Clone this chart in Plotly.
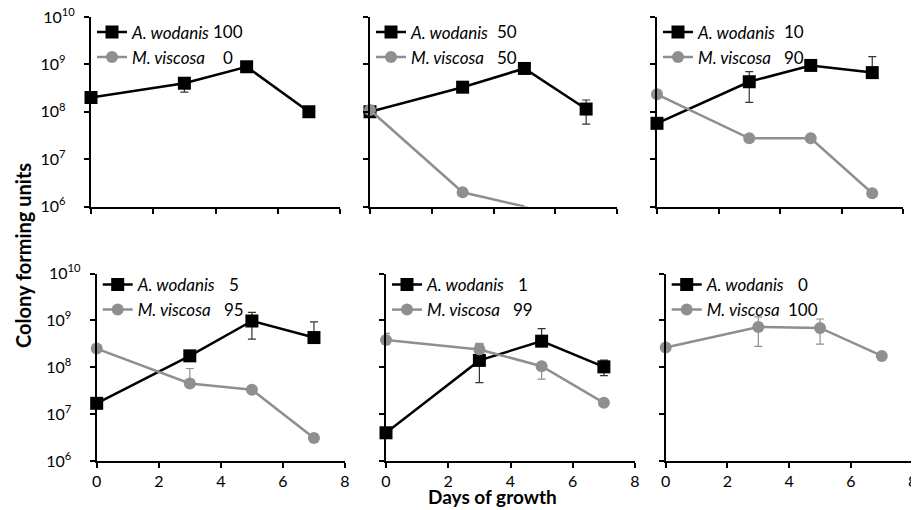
import plotly.graph_objects as go

# ---------------- data ----------------
days = [0, 3, 5, 7]
aw_pct = [100, 50, 10, 5, 1, 0]
mv_pct = [0, 50, 90, 95, 99, 100]

day_ticks = [0, 2, 4, 6, 8]
cfu_ticks = [1e6, 1e7, 1e8, 1e9, 1e10]
cfu_ticktext = ["10<sup>6</sup>\u2007", "10<sup>7</sup>\u2007", "10<sup>8</sup>\u2007",
                "10<sup>9</sup>\u2007", "10<sup>10</sup>"]

# A. wodanis colony forming units (one list per co-culture)
aw_cfu_1 = [2.0e8, 4.0e8, 8.9e8, 1.0e8]
aw_cfu_2 = [1.0e8, 3.3e8, 8.2e8, 1.14e8]
aw_cfu_3 = [5.7e7, 4.3e8, 9.5e8, 6.7e8]
aw_cfu_4 = [1.7e7, 1.75e8, 9.7e8, 4.3e8]
aw_cfu_5 = [4.0e6, 1.4e8, 3.6e8, 1.02e8]
aw_cfu_6 = [None, None, None, None]

# A. wodanis error bar upper / lower ends
aw_hi_1 = [None, None, None, None]
aw_lo_1 = [None, 2.6e8, None, None]
aw_hi_2 = [None, None, None, 1.77e8]
aw_lo_2 = [None, None, None, 5.5e7]
aw_hi_3 = [None, 7.0e8, None, 1.46e9]
aw_lo_3 = [None, 1.58e8, None, None]
aw_hi_4 = [None, None, 1.48e9, 9.3e8]
aw_lo_4 = [None, None, 4.0e8, None]
aw_hi_5 = [None, 3.1e8, 6.7e8, 1.42e8]
aw_lo_5 = [None, 4.7e7, None, 6.6e7]
aw_hi_6 = [None, None, None, None]
aw_lo_6 = [None, None, None, None]

# M. viscosa colony forming units
mv_cfu_1 = [None, None, None, None]
mv_cfu_2 = [1.09e8, 2.0e6, 1.0e6, None]
mv_cfu_3 = [2.33e8, 2.75e7, 2.75e7, 1.9e6]
mv_cfu_4 = [2.5e8, 4.5e7, 3.3e7, 3.1e6]
mv_cfu_5 = [3.8e8, 2.4e8, 1.05e8, 1.74e7]
mv_cfu_6 = [2.63e8, 7.2e8, 6.9e8, 1.74e8]

# M. viscosa error bar upper / lower ends
mv_hi_1 = [None, None, None, None]
mv_lo_1 = [None, None, None, None]
mv_hi_2 = [None, None, None, None]
mv_lo_2 = [None, None, None, None]
mv_hi_3 = [None, None, None, None]
mv_lo_3 = [None, None, None, None]
mv_hi_4 = [None, 9.4e7, None, None]
mv_lo_4 = [None, None, None, None]
mv_hi_5 = [5.3e8, 3.25e8, None, None]
mv_lo_5 = [None, None, 5.6e7, None]
mv_hi_6 = [None, 1.19e9, 1.07e9, None]
mv_lo_6 = [None, 2.8e8, 3.1e8, None]

aw_cfu = [aw_cfu_1, aw_cfu_2, aw_cfu_3, aw_cfu_4, aw_cfu_5, aw_cfu_6]
aw_hi = [aw_hi_1, aw_hi_2, aw_hi_3, aw_hi_4, aw_hi_5, aw_hi_6]
aw_lo = [aw_lo_1, aw_lo_2, aw_lo_3, aw_lo_4, aw_lo_5, aw_lo_6]
mv_cfu = [mv_cfu_1, mv_cfu_2, mv_cfu_3, mv_cfu_4, mv_cfu_5, mv_cfu_6]
mv_hi = [mv_hi_1, mv_hi_2, mv_hi_3, mv_hi_4, mv_hi_5, mv_hi_6]
mv_lo = [mv_lo_1, mv_lo_2, mv_lo_3, mv_lo_4, mv_lo_5, mv_lo_6]

# ---------------- layout geometry (window pixels) ----------------
PAGE_MARGIN = 8            # default <body> margin of the html page
W, H = 919 - PAGE_MARGIN, 510 - PAGE_MARGIN
FONT = "Lato"
BLACK = "#000000"
GREY = "#8f8f8f"

col_px = [(91, 340), (370, 617), (657, 903), (96.7, 345), (386, 635), (665.7, 912.7)]
row_px = [(17, 206.5)] * 3 + [(273.5, 461)] * 3
legend_row1 = [32, 32, 32, 284.5, 284.5, 284.5]
LEG_FS = 17
leg_item_h = LEG_FS * 1.3 + 3
leg_row_gap = leg_item_h


def px_x(p):
    return (p - PAGE_MARGIN) / W


def px_y(p):
    return 1 - (p - PAGE_MARGIN) / H


def err_parts(vals, hi, lo):
    plus = [(h - v) if (h is not None and v is not None) else 0 for v, h in zip(vals, hi)]
    minus = [(v - l) if (l is not None and v is not None) else 0 for v, l in zip(vals, lo)]
    return plus, minus


fig = go.Figure()
annotations = []
layout = dict()

for i in range(6):
    n = "" if i == 0 else str(i + 1)
    xa, ya = "x" + n, "y" + n
    leg = "legend" + n
    top = i < 3
    left = i % 3 == 0

    # A. wodanis
    p, m = err_parts(aw_cfu[i], aw_hi[i], aw_lo[i])
    fig.add_trace(go.Scatter(
        x=days, y=aw_cfu[i], xaxis=xa, yaxis=ya, legend=leg,
        name="<i>A. wodanis</i>", mode="lines+markers",
        line=dict(color=BLACK, width=2.5),
        marker=dict(symbol="square", size=13, color=BLACK),
        error_y=dict(type="data", symmetric=False, array=p, arrayminus=m,
                     color="#333333", thickness=1.2, width=4),
        cliponaxis=False, connectgaps=False,
    ))
    # M. viscosa
    p, m = err_parts(mv_cfu[i], mv_hi[i], mv_lo[i])
    fig.add_trace(go.Scatter(
        x=days, y=mv_cfu[i], xaxis=xa, yaxis=ya, legend=leg,
        name="<i>M. viscosa</i>", mode="lines+markers",
        line=dict(color=GREY, width=2.5),
        marker=dict(symbol="circle", size=12, color=GREY),
        error_y=dict(type="data", symmetric=False, array=p, arrayminus=m,
                     color=GREY, thickness=1.2, width=4),
        cliponaxis=False, connectgaps=False,
    ))

    x0, x1 = col_px[i]
    y0, y1 = row_px[i]
    axis_common = dict(showline=True, linewidth=2, linecolor=BLACK, ticks="outside",
                       ticklen=5, tickwidth=2, tickcolor=BLACK, showgrid=False,
                       zeroline=False, automargin=False, ticklabeloverflow="allow",
                       tickfont=dict(family=FONT, size=16, color=BLACK))
    layout["xaxis" + n] = dict(domain=[px_x(x0), px_x(x1)], range=[0, 8], anchor=ya,
                               tickvals=day_ticks, showticklabels=not top, **axis_common)
    layout["yaxis" + n] = dict(domain=[px_y(y1), px_y(y0)], type="log", range=[6, 10],
                               anchor=xa, tickvals=cfu_ticks, ticktext=cfu_ticktext,
                               showticklabels=left, ticklabelstandoff=6, **axis_common)

    r1 = legend_row1[i]
    layout[leg] = dict(x=px_x(x0 + 1), y=px_y(r1 - (leg_item_h / 2 + 5)),
                       xanchor="left", yanchor="top", bgcolor="rgba(0,0,0,0)",
                       font=dict(family=FONT, size=LEG_FS, color=BLACK),
                       itemwidth=30, traceorder="normal")

    for k, pct in enumerate([aw_pct[i], mv_pct[i]]):
        annotations.append(dict(
            text=str(pct), x=px_x(x0 + 137), y=px_y(r1 + k * leg_row_gap),
            xref="paper", yref="paper", xanchor="center", yanchor="middle",
            showarrow=False, font=dict(family=FONT, size=LEG_FS, color=BLACK)))

annotations.append(dict(text="<b>Colony forming units</b>", textangle=-90,
                        x=px_x(23), y=px_y(256), xref="paper", yref="paper",
                        xanchor="center", yanchor="middle", showarrow=False,
                        font=dict(family=FONT, size=20, color=BLACK)))
annotations.append(dict(text="<b>Days of growth</b>",
                        x=px_x(492), y=px_y(496), xref="paper", yref="paper",
                        xanchor="center", yanchor="middle", showarrow=False,
                        font=dict(family=FONT, size=19, color=BLACK)))

fig.update_layout(
    width=W, height=H, margin=dict(l=0, r=0, t=0, b=0, autoexpand=False),
    paper_bgcolor="white", plot_bgcolor="white",
    font=dict(family=FONT, color=BLACK),
    annotations=annotations,
    **layout,
)

fig.write_html("out.html")
